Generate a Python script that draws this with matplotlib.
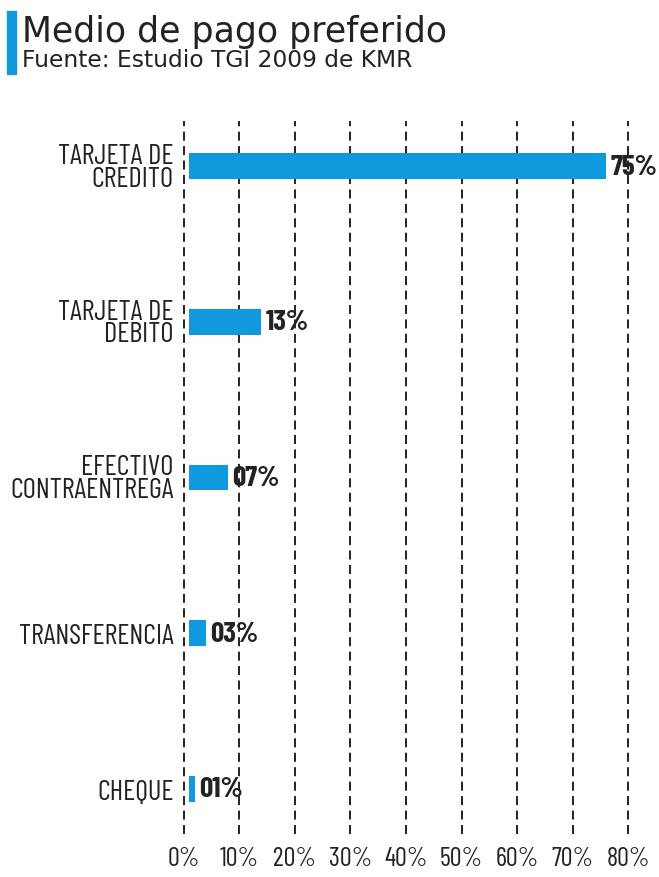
import matplotlib.pyplot as plt
import numpy as np
from matplotlib.patches import Rectangle

# Preferred payment method (% of respondents)
categories = ["TARJETA DE\nCREDITO", "TARJETA DE\nDEBITO", "EFECTIVO\nCONTRAENTREGA",
              "TRANSFERENCIA", "CHEQUE"]
values = [75, 13, 7, 3, 1]
value_labels = ["75%", "13%", "07%", "03%", "01%"]
ticks = [0, 10, 20, 30, 40, 50, 60, 70, 80]
tick_labels = [f"{t}%" for t in ticks]

BLUE = "#1199dd"
INK = "#222222"
NARROW = ["Barlow Condensed", "Sofia Sans Extra Condensed", "DejaVu Sans"]
HEAD = ["DejaVu Sans"]

fig = plt.figure(figsize=(6.59, 8.78), dpi=100)

# title block with the blue marker on the left
fig.patches.append(Rectangle((7 / 659, 1 - 75 / 878), 9 / 659, 63 / 878,
                             transform=fig.transFigure, color=BLUE, zorder=3))
fig.text(22 / 659, 1 - 42 / 878, "Medio de pago preferido", fontsize=25,
         family=HEAD, color=INK, va="baseline", ha="left")
fig.text(22 / 659, 1 - 67 / 878, "Fuente: Estudio TGI 2009 de KMR", fontsize=16.8,
         family=HEAD, color=INK, va="baseline", ha="left")

ax = fig.add_axes([182 / 659, 43 / 878, 448 / 659, 713 / 878])
y = np.arange(len(categories))
# bars sit just off the zero line
ax.barh(y, values, left=1.0, height=0.165, color=BLUE, zorder=3)

for yi, v, lab in zip(y, values, value_labels):
    ax.text(v + 1.8, yi, lab, va="center", ha="left", fontsize=21,
            fontweight="bold", family=NARROW, color=INK, zorder=4)

for t in ticks:
    ax.axvline(t, color="#111111", linestyle=(0, (5, 3)), linewidth=1.3, zorder=2)

ax.set_xlim(-0.3, 80.3)
ax.set_ylim(4.29, -0.29)
ax.set_yticks(y)
ax.set_yticklabels(categories, fontsize=20.5, family=NARROW, color=INK,
                   linespacing=0.82)
ax.set_xticks(ticks)
ax.set_xticklabels(tick_labels, fontsize=19, family=NARROW, color=INK)
ax.tick_params(axis="y", length=0, pad=6)
ax.tick_params(axis="x", length=0, pad=9)
for s in ax.spines.values():
    s.set_visible(False)

fig.savefig("out.png", dpi=100)
